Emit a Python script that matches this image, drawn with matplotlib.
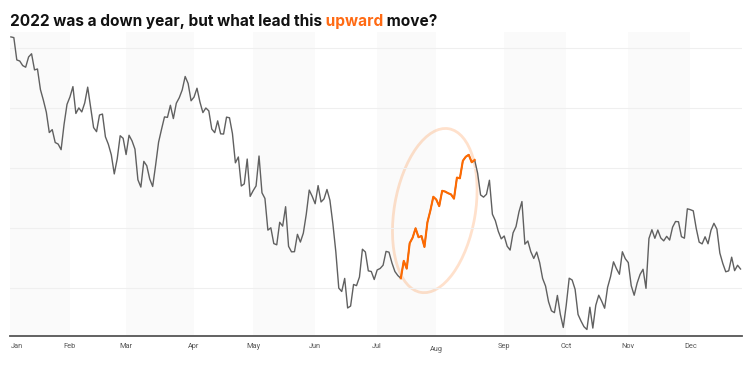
import numpy as np
import matplotlib
matplotlib.use("Agg")
import matplotlib.pyplot as plt
from matplotlib.patches import Ellipse
from matplotlib.transforms import ScaledTranslation

# S&P 500 daily closes, 2022 (trading days)
months = ["Jan", "Feb", "Mar", "Apr", "May", "Jun",
          "Jul", "Aug", "Sep", "Oct", "Nov", "Dec"]
jan = [4796.56, 4793.54, 4700.58, 4696.05, 4677.03, 4670.29, 4713.07, 4726.35,
       4659.03, 4662.85, 4577.11, 4532.76, 4482.73, 4397.94, 4410.13, 4356.45,
       4349.93, 4326.51, 4431.85, 4515.55]
feb = [4546.54, 4589.38, 4477.44, 4500.53, 4483.87, 4521.54, 4587.18, 4504.08,
       4418.64, 4401.67, 4471.07, 4475.01, 4380.26, 4348.87, 4304.76, 4225.50,
       4288.70, 4384.65, 4373.94]
mar = [4306.26, 4386.54, 4363.49, 4328.87, 4201.09, 4170.70, 4277.88, 4259.52,
       4204.31, 4173.11, 4262.45, 4357.86, 4411.67, 4463.12, 4461.18, 4511.61,
       4456.24, 4520.16, 4543.06, 4575.52, 4631.60, 4602.45, 4530.41]
apr = [4545.86, 4582.64, 4525.12, 4481.15, 4500.21, 4488.28, 4412.53, 4397.45,
       4446.59, 4392.59, 4391.69, 4462.21, 4459.45, 4393.66, 4271.78, 4296.12,
       4175.20, 4183.96, 4287.50, 4131.93]
may = [4155.38, 4175.48, 4300.17, 4146.87, 4123.34, 3991.24, 4001.05, 3935.18,
       3930.08, 4023.89, 4008.01, 4088.85, 3923.68, 3900.79, 3901.36, 3973.75,
       3941.48, 3978.73, 4057.84, 4158.24, 4132.15]
jun = [4101.23, 4176.82, 4108.54, 4121.43, 4160.68, 4115.77, 4017.82, 3900.86,
       3749.63, 3735.48, 3789.99, 3666.77, 3674.84, 3764.79, 3759.89, 3795.73,
       3911.74, 3900.11, 3821.55, 3818.83, 3785.38]
jul = [3825.33, 3831.39, 3845.08, 3902.62, 3899.38, 3854.43, 3818.80, 3801.78,
       3790.38, 3863.16, 3830.85, 3936.69, 3959.90, 3998.95, 3961.63, 3966.84,
       3921.05, 4023.61, 4072.43, 4130.29]
aug = [4118.63, 4091.19, 4155.17, 4151.94, 4145.19, 4140.06, 4122.47, 4210.24,
       4207.27, 4280.15, 4297.14, 4305.20, 4274.04, 4283.74, 4228.48, 4137.99,
       4128.73, 4140.77, 4199.12, 4057.66, 4030.61, 3986.16, 3955.00]
sep = [3966.85, 3924.26, 3908.19, 3979.87, 4006.18, 4067.36, 4110.41, 3932.69,
       3946.01, 3901.35, 3873.33, 3899.89, 3855.93, 3789.93, 3757.99, 3693.23,
       3655.04, 3647.29, 3719.04, 3640.47, 3585.62]
oct_ = [3678.43, 3790.93, 3783.28, 3744.52, 3639.66, 3612.39, 3588.84, 3577.03,
        3669.91, 3583.07, 3677.95, 3719.98, 3695.16, 3665.78, 3752.75, 3797.34,
        3859.11, 3830.60, 3807.30, 3901.06, 3871.98]
nov = [3856.10, 3759.69, 3719.89, 3770.55, 3806.80, 3828.11, 3748.57, 3956.37,
       3992.93, 3957.25, 3991.73, 3958.79, 3946.56, 3965.34, 3949.94, 4003.58,
       4027.26, 4026.12, 3963.94, 3957.63, 4080.11]
dec = [4076.57, 4071.70, 3998.84, 3941.26, 3933.92, 3963.51, 3934.38, 3990.56,
       4019.65, 3995.32, 3895.75, 3852.36, 3817.66, 3821.62, 3878.44, 3822.39,
       3844.82, 3829.25]

# highlighted run: Jul 14 -> Aug 18 (position inside the month lists)
hl_from = ("Jul", 8)
hl_to = ("Aug", 13)

grid_values = [3750, 4000, 4250, 4500, 4750]

monthly = [jan, feb, mar, apr, may, jun, jul, aug, sep, oct_, nov, dec]
close = np.concatenate(monthly)
idx = np.arange(len(close))
month_start = np.cumsum([0] + [len(m) for m in monthly[:-1]])
i0 = month_start[months.index(hl_from[0])] + hl_from[1]
i1 = month_start[months.index(hl_to[0])] + hl_to[1]

W, H = 750, 369
fig = plt.figure(figsize=(W / 100, H / 100), dpi=100)
ax = fig.add_axes([10 / W, (H - 336) / H, 732 / W, (336 - 32) / H])
ax.set_xlim(-0.3, len(close) - 0.5)
ax.set_ylim(3550, 4817)

# alternate month shading
for k in range(0, 12, 2):
    left = month_start[k] if k > 0 else ax.get_xlim()[0]
    ax.axvspan(left, month_start[k + 1], color="#fafafa", lw=0, zorder=0.2)

ax.set_yticks(grid_values)
ax.yaxis.grid(True, color="#efefef", lw=0.8, zorder=0.5)
ax.tick_params(axis="y", length=0, labelleft=False)

ax.plot(idx, close, color="#606060", lw=1.0, zorder=3)
ax.plot(idx[i0:i1 + 1], close[i0:i1 + 1], color="#ff6a00", lw=1.5, zorder=4)

# ellipse round the highlighted run
cx = (i0 + i1) / 2 - 1
cy = (close[i0:i1 + 1].min() + close[i0:i1 + 1].max()) / 2 + 25
ell = Ellipse((0, 0), 0.81, 1.66, angle=-9.7, fill=False,
              edgecolor="#ff6a00", alpha=0.2, lw=2,
              transform=fig.dpi_scale_trans + ScaledTranslation(cx, cy, ax.transData))
ax.add_patch(ell)

for s in ["top", "left", "right"]:
    ax.spines[s].set_visible(False)
ax.spines["bottom"].set_color("#555555")
ax.spines["bottom"].set_linewidth(1.3)

ax.set_xticks(month_start)
ax.set_xticklabels(months, fontsize=5.3, color="#555555", family="Roboto")
ax.tick_params(axis="x", length=0, pad=5)
ax.get_xticklabels()[0].set_horizontalalignment("left")
ax.xaxis.get_major_ticks()[7].set_pad(7.5)

# title in three pieces, bottoms aligned (same descent for every piece)
tfont = dict(family="Inter", fontweight="bold", fontsize=11.1, va="bottom")
t1 = fig.text(10 / W, (H - 29) / H, "2022 was a down year, but what lead this",
              color="#111111", **tfont)
t2 = ax.annotate(" upward", xy=(1, 0), xycoords=t1, color="#ff6a13",
                 annotation_clip=False, **tfont)
t3 = ax.annotate(" move?", xy=(1, 0), xycoords=t2, color="#111111",
                 annotation_clip=False, **tfont)

fig.savefig("out.png", dpi=100)
